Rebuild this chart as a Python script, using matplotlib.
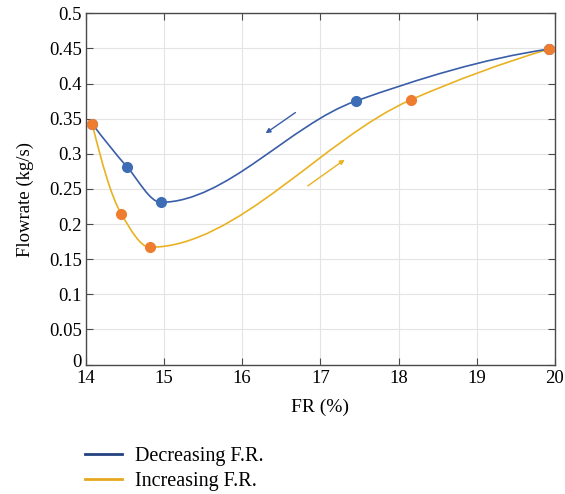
import numpy as np
import matplotlib.pyplot as plt
import matplotlib.transforms as mtransforms
from matplotlib.path import Path
from matplotlib.patches import PathPatch
from matplotlib.lines import Line2D

plt.rcParams['font.family'] = ['Liberation Serif', 'DejaVu Serif']

# measured points
fr_dec = [14.08, 14.53, 14.96, 17.45, 19.92]
q_dec = [0.343, 0.281, 0.231, 0.375, 0.449]
fr_inc = [14.08, 14.45, 14.82, 18.16, 19.92]
q_inc = [0.343, 0.215, 0.167, 0.377, 0.449]

# direction arrows (start, end)
arrow_dec = [(16.71, 0.361), (16.27, 0.327)]
arrow_inc = [(16.81, 0.252), (17.34, 0.294)]

blue_line = '#3a5ea8'
blue_dot = '#3d6db5'
yellow_line = '#e9b222'
orange_dot = '#ee7d30'


def pchip_slopes(x, y):
    # Fritsch-Carlson slopes, shape preserving
    h = np.diff(x)
    d = np.diff(y) / h
    n = len(x)
    m = np.zeros(n)
    for k in range(1, n - 1):
        if d[k - 1] * d[k] > 0:
            w1 = 2 * h[k] + h[k - 1]
            w2 = h[k] + 2 * h[k - 1]
            m[k] = (w1 + w2) / (w1 / d[k - 1] + w2 / d[k])
    m[0] = ((2 * h[0] + h[1]) * d[0] - h[0] * d[1]) / (h[0] + h[1])
    if np.sign(m[0]) != np.sign(d[0]):
        m[0] = 0
    m[-1] = ((2 * h[-1] + h[-2]) * d[-1] - h[-1] * d[-2]) / (h[-1] + h[-2])
    if np.sign(m[-1]) != np.sign(d[-1]):
        m[-1] = 0
    return m


def smooth_path(xs, ys):
    # hermite segments written as cubic bezier curves
    x = np.asarray(xs, float)
    y = np.asarray(ys, float)
    m = pchip_slopes(x, y)
    verts = [(x[0], y[0])]
    codes = [Path.MOVETO]
    for i in range(len(x) - 1):
        h = (x[i + 1] - x[i]) / 3
        verts += [(x[i] + h, y[i] + m[i] * h),
                  (x[i + 1] - h, y[i + 1] - m[i + 1] * h),
                  (x[i + 1], y[i + 1])]
        codes += [Path.CURVE4] * 3
    return Path(verts, codes)


fig = plt.figure(figsize=(5.65, 4.94), dpi=100)
ax = fig.add_axes([0.152, 0.262, 0.830, 0.711])

ax.add_patch(PathPatch(smooth_path(fr_inc, q_inc), fc='none', ec=yellow_line, lw=1.2, zorder=3))
ax.add_patch(PathPatch(smooth_path(fr_dec, q_dec), fc='none', ec=blue_line, lw=1.2, zorder=3))
ax.plot(fr_dec, q_dec, 'o', color=blue_dot, ms=7, zorder=4)
ax.plot(fr_inc, q_inc, 'o', color=orange_dot, ms=7, zorder=5)

ax.annotate('', xy=arrow_dec[1], xytext=arrow_dec[0],
            arrowprops=dict(arrowstyle='-|>', color=blue_line, lw=1.0, mutation_scale=7))
ax.annotate('', xy=arrow_inc[1], xytext=arrow_inc[0],
            arrowprops=dict(arrowstyle='-|>', color=yellow_line, lw=1.0, mutation_scale=7))

ax.set_xlim(14, 20)
ax.set_ylim(0, 0.5)
ax.set_xticks(range(14, 21))
ax.set_yticks(np.arange(0, 0.51, 0.05))
ax.set_yticklabels(['0', '0.05', '0.1', '0.15', '0.2', '0.25', '0.3', '0.35', '0.4', '0.45', '0.5'])
ax.grid(True, color='#e4e4e4', lw=0.8)
ax.set_axisbelow(True)
ax.tick_params(direction='in', top=True, right=True, length=5, width=0.8,
               color='#4a4a4a', labelsize=13.5)
ax.tick_params(axis='x', pad=4)
ax.tick_params(axis='y', pad=3)
for s in ax.spines.values():
    s.set_color('#4a4a4a')
    s.set_linewidth(1.0)

# lift the "0" a little so it clears the "14" below it
zero_lbl = ax.get_yticklabels()[0]
zero_lbl.set_transform(zero_lbl.get_transform() +
                       mtransforms.ScaledTranslation(0, 0.04, fig.dpi_scale_trans))

ax.set_xlabel('FR (%)', fontsize=14, labelpad=8)
ax.set_ylabel('Flowrate (kg/s)', fontsize=13.5)
ax.yaxis.set_label_coords(-0.11, 0.47)

handles = [Line2D([], [], color='#24427f', lw=2),
           Line2D([], [], color='#e6a820', lw=2)]
fig.legend(handles, ['Decreasing F.R.', 'Increasing F.R.'], loc='upper left',
           bbox_to_anchor=(0.136, 0.112), frameon=False, fontsize=14.5,
           handlelength=1.85, handletextpad=0.65, labelspacing=0.3, borderaxespad=0)

fig.savefig('out.png', dpi=100)
